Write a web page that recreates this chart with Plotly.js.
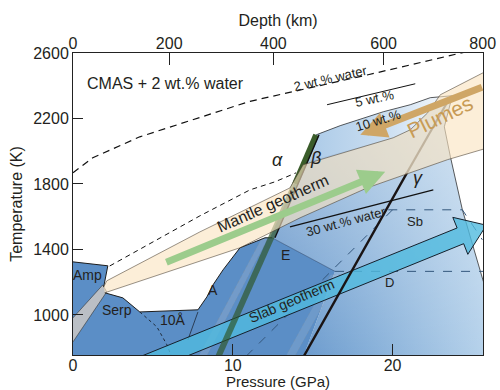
<!DOCTYPE html>
<html><head><meta charset="utf-8">
<script src="https://cdn.plot.ly/plotly-3.0.1.min.js"></script>
<style>html,body{margin:0;padding:0;background:#fff}#chart{width:500px;height:390px}</style>
</head><body><div id="chart"></div>
<script>
// ---------- data: pressure (GPa) / temperature (K) ----------
const tempTicks = [1000, 1400, 1800, 2200, 2600];
const pressTicks = [0, 10, 20];
const depthTickText = ['0', '200', '400', '600', '800'];
const depthTickP = [0, 6.02, 12.54, 19.44, 25.64];

// hydrous phase field (Amp, Serp, 10Å, A, E)
const darkP = [0, 0, 2.18, 1.92, 1.99, 3.12, 4.18, 7.82, 8.38, 8.76, 9.39, 10.01, 10.45, 12.02, 12.46, 16.40, 14.40];
const darkT = [740, 1324, 1300, 1171, 1135, 1104, 1018, 1031, 1110, 1183, 1275, 1355, 1410, 1471, 1471, 1266, 740];
const darkEdgeP = [0, 2.18, 1.92, null, 1.99, 3.12, 4.18, 7.82, 8.38, 8.76, 9.39, 10.01, 10.45, 12.02, 12.46];
const darkEdgeT = [1324, 1300, 1171, null, 1135, 1104, 1018, 1031, 1110, 1183, 1275, 1355, 1410, 1471, 1471];
// D / Sb field
const lightP = [12.33, 15.22, 16.72, 19.42, 21.11, 22.36, 23.74, 23.24, 23.62, 24.37, 25.69, 25.8, 25.8, 14.40, 16.40, 12.46];
const lightT = [1471, 2100, 2156, 2241, 2284, 2327, 2339, 2149, 1966, 1642, 1202, 1202, 740, 740, 1266, 1471];
const lightEdgeP = [15.22, 16.72, 19.42, 21.11, 22.36, 23.74, 23.24, 23.62, 24.37, 25.69];
const lightEdgeT = [2100, 2156, 2241, 2284, 2327, 2339, 2149, 1966, 1642, 1202];
// 10 wt.% field
const tenP = [15.22, 16.72, 19.42, 21.11, 22.36, 23.74, 22.19, 21.11, 20.04, 14.40];
const tenT = [2100, 2156, 2241, 2284, 2327, 2339, 2234, 2131, 2082, 1929];
// grey band near Amp/Serp
const greyP = [0, 1.86, 2.11, 0];
const greyT = [982, 1183, 1141, 835];
// mantle geotherm + plume band
const bandP = [1.92, 2.11, 7.94, 13.58, 14.40, 20.04, 21.11, 22.19, 22.99, 25.8, 25.8, 23.43, 18.41, 14.21, 10.45, 1.99];
const bandT = [1171, 1208, 1507, 1776, 1917, 2082, 2131, 2234, 2345, 2486, 2016, 1948, 1776, 1593, 1410, 1135];
// slab geotherm arrow
const slabP = [3.55, 24.04, 23.77, 25.87, 24.71, 24.45, 5.01];
const slabT = [719, 1531, 1596, 1548, 1370, 1435, 664];
// solidus 2 wt.% water (dashed)
const sol2P = [0, 1.24, 4.18, 7.94, 11.08, 18.47, 24.24, 25.6];
const sol2T = [1868, 1960, 2088, 2204, 2305, 2467, 2600, 2630];
// lower dashed line (alpha side)
const solAP = [2.30, 4.81, 7.94, 11.08, 12.64, 13.96];
const solAT = [1299, 1434, 1605, 1764, 1813, 1868];
// 5 wt.% and 30 wt.% lines
const w5P = [15.90, 21.42];
const w5T = [2284, 2412];
const w30P = [13.58, 22.55];
const w30T = [1538, 1764];
// alpha-beta, beta-gamma (post-spinel) boundaries
const abLowP = [9.07, 13.90];
const abLowT = [740, 1800];
const abHighP = [13.90, 15.22];
const abHighT = [1800, 2100];
const abEdgeP = [12.64, 15.40];
const abEdgeT = [1471, 2100];
const gamLowP = [14.40, 20.90];
const gamLowT = [740, 1868];
const gamHighP = [20.90, 23.62];
const gamHighT = [1868, 2333];
const abStripP = [7.82, 11.83, 12.21, 8.32];
const abStripT = [740, 1471, 1471, 740];
const gStripP = [13.28, 16.13, 16.69, 13.84];
const gStripT = [740, 1245, 1245, 740];
// phase boundaries inside hydrous field
const serpP = [4.18, 5.25, 5.88, 6.19];
const serpT = [1018, 927, 817, 740];
const tenAP = [7.82, 7.19];
const tenAT = [1018, 847];
const edP = [12.46, 16.40];
const edT = [1471, 1266];
const dashUpP = [19.73, 24.37, 25.62, null, 20.0, 10.76];
const dashUpT = [1642, 1642, 1459, null, 1642, 740];
const dashLoP = [16.40, 25.8];
const dashLoT = [1266, 1266];
// arrows [tail, tip]
const mantleArrowP = [5.75, 19.54];
const mantleArrowT = [1318, 1874];
const plumeArrowP = [25.69, 17.98];
const plumeArrowT = [2394, 2100];
// labels
const labText = ['CMAS + 2 wt.% water', '2 wt.% water', '5 wt.%', '10 wt.%', 'Plumes', '<i>α</i>', '<i>β</i>', '<i>γ</i>',
  'Mantle geotherm', '30 wt.% water', 'Sb', 'D', 'E', 'A', '10Å', 'Serp', 'Amp', 'Slab geotherm'];
const labP = [0.74, 16.09, 18.85, 19.10, 22.99, 12.77, 15.15, 21.61, 12.50, 17.10, 21.42, 19.79, 13.27, 8.76, 6.25, 2.74, 0.92, 13.65];
const labT = [2412, 2443, 2321, 2186, 2210, 1948, 1960, 1838, 1680, 1569, 1569, 1196, 1367, 1153, 969, 1031, 1245, 1086];
const labAngle = [0, -13, -12, -17, -26, 0, 0, 0, -24, -15, 0, 0, 0, 0, 0, 0, 0, -23];
const labSize = [16, 13, 13, 13, 21, 18, 18, 18, 16, 13, 13, 13, 14, 14, 14, 14, 14, 14];

// ---------- traces ----------
const F = 'Liberation Sans, Arial, sans-serif';
const ink = '#231f20';
function poly(x, y, fill, line, extra) {
  return Object.assign({type: 'scatter', mode: 'lines', x: x, y: y, fill: 'toself', fillcolor: fill,
    line: line || {width: 0}, hoverinfo: 'skip', showlegend: false}, extra || {});
}
function ln(x, y, color, width, dash, extra) {
  return Object.assign({type: 'scatter', mode: 'lines', x: x, y: y, line: {color: color, width: width, dash: dash || 'solid'},
    hoverinfo: 'skip', showlegend: false, connectgaps: false}, extra || {});
}
const traces = [
  poly(lightP, lightT, 'rgb(140,180,220)', {width: 0}, {fillgradient: {type: 'horizontal',
    colorscale: [[0, 'rgb(95,145,200)'], [0.45, 'rgb(132,174,216)'], [1, 'rgb(182,210,235)']]}}),
  poly(lightP, lightT, 'rgba(255,255,255,0.2)', {width: 0}, {fillgradient: {type: 'vertical', start: 740, stop: 2339,
    colorscale: [[0, 'rgba(255,255,255,0)'], [1, 'rgba(255,255,255,0.5)']]}}),
  poly(tenP, tenT, 'rgb(200,220,240)', {width: 0}, {fillgradient: {type: 'horizontal',
    colorscale: [[0, 'rgb(170,201,231)'], [0.55, 'rgb(202,222,241)'], [1, 'rgb(248,250,253)']]}}),
  poly(darkP, darkT, 'rgb(91,142,198)'),
  poly(greyP, greyT, 'rgb(186,191,197)', {color: '#333', width: 0.6}),
  poly(abStripP, abStripT, 'rgba(200,205,212,0.22)', {color: 'rgba(130,140,150,0.6)', width: 0.6, dash: 'dot'}),
  poly(gStripP, gStripT, 'rgba(200,210,220,0.18)', {color: 'rgba(130,140,150,0.5)', width: 0.6, dash: 'dot'}),
  ln(darkEdgeP, darkEdgeT, '#1e1e1e', 1),
  ln(lightEdgeP, lightEdgeT, '#333', 0.8),
  ln(serpP, serpT, '#1e2a3a', 1, 'dot'),
  ln(tenAP, tenAT, '#1e2a3a', 0.8),
  ln(edP, edT, 'rgba(50,80,120,0.8)', 0.8),
  ln(dashUpP, dashUpT, '#34577d', 1, 'dash'),
  ln(dashLoP, dashLoT, '#34577d', 1, 'dash'),
  poly(slabP, slabT, 'rgba(80,186,222,0.8)', {color: '#15202c', width: 1}),
  ln(abLowP, abLowT, 'rgba(45,85,40,0.68)', 6),
  ln(abHighP, abHighT, 'rgb(58,92,42)', 6),
  ln(abEdgeP, abEdgeT, '#111', 1.4),
  ln(gamLowP, gamLowT, '#1a1414', 2.4),
  ln(gamHighP, gamHighT, 'rgba(80,80,80,0.85)', 2.2),
  poly(bandP, bandT, 'rgba(250,228,192,0.62)', {color: 'rgba(70,60,45,0.8)', width: 0.7}),
  ln(sol2P, sol2T, '#111', 1.2, '7px,5px'),
  ln(solAP, solAT, '#111', 1, '5px,4px'),
  ln(w5P, w5T, '#111', 1),
  ln(w30P, w30T, '#111', 1.2),
  {type: 'scatter', mode: 'markers', x: [0], y: [2600], xaxis: 'x2', marker: {opacity: 0}, hoverinfo: 'skip', showlegend: false}
];

// ---------- annotations ----------
const ann = [];
ann.push({x: mantleArrowP[1], y: mantleArrowT[1], ax: mantleArrowP[0], ay: mantleArrowT[0], axref: 'x', ayref: 'y',
  xref: 'x', yref: 'y', text: '', showarrow: true, arrowhead: 2, arrowsize: 0.75, arrowwidth: 7, arrowcolor: 'rgb(156,204,140)'});
ann.push({x: plumeArrowP[1], y: plumeArrowT[1], ax: plumeArrowP[0], ay: plumeArrowT[0], axref: 'x', ayref: 'y',
  xref: 'x', yref: 'y', text: '', showarrow: true, arrowhead: 2, arrowsize: 0.75, arrowwidth: 7, arrowcolor: 'rgb(207,166,102)'});
for (let i = 0; i < labText.length; i++) {
  ann.push({x: labP[i], y: labT[i], xref: 'x', yref: 'y', text: labText[i], showarrow: false,
    textangle: labAngle[i], xanchor: i === 0 ? 'left' : 'center', yanchor: 'middle',
    font: {family: F, size: labSize[i], color: i === 4 ? 'rgb(200,155,85)' : ink}});
}

const layout = {
  width: 500, height: 390,
  margin: {l: 73, r: 17, t: 53, b: 35, pad: 0},
  paper_bgcolor: '#fff', plot_bgcolor: '#fff',
  font: {family: F, size: 16, color: ink},
  showlegend: false,
  xaxis: {range: [0, 25.66], tickvals: pressTicks, ticks: 'inside', ticklen: 11, tickcolor: '#222',
    showline: true, linecolor: '#222', linewidth: 1, mirror: true, showgrid: false, zeroline: false,
    ticklabelstandoff: -4,
    tickfont: {size: 16, color: ink}, title: {text: 'Pressure (GPa)', font: {size: 15, color: ink}, standoff: 12}},
  xaxis2: {range: [0, 25.66], overlaying: 'x', side: 'top', tickvals: depthTickP, ticktext: depthTickText,
    ticks: 'inside', ticklen: 12, tickcolor: '#222', showline: false, showgrid: false, zeroline: false,
    tickfont: {size: 16, color: ink}, title: {text: 'Depth (km)', font: {size: 16, color: ink}, standoff: 4}},
  yaxis: {range: [755, 2600], tickvals: tempTicks, ticks: 'inside', ticklen: 10, tickcolor: '#222',
    showline: true, linecolor: '#222', linewidth: 1, mirror: true, showgrid: false, zeroline: false,
    tickfont: {size: 16, color: ink}, title: {text: 'Temperature (K)', font: {size: 16, color: ink}, standoff: 6}},
  annotations: ann
};
Plotly.newPlot('chart', traces, layout, {staticPlot: true, displayModeBar: false});
</script></body></html>
